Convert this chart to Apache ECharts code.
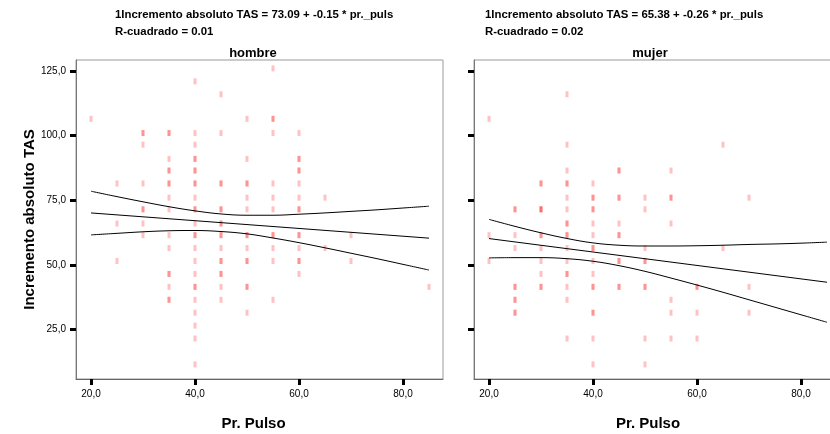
<!DOCTYPE html>
<html>
<head>
<meta charset="utf-8">
<script src="https://cdn.jsdelivr.net/npm/echarts@6/dist/echarts.min.js"></script>
<style>
html,body{margin:0;padding:0;background:#fff;overflow:hidden;}
#chart{width:850px;height:434px;}
</style>
</head>
<body>
<div id="chart"></div>
<script>
// ---- data ----
const panelNames = ['hombre', 'mujer'];
const equations = [
  '1Incremento absoluto TAS = 73.09 + -0.15 * pr._puls\nR-cuadrado = 0.01',
  '1Incremento absoluto TAS = 65.38 + -0.26 * pr._puls\nR-cuadrado = 0.02'
];
const xTicks = [20, 40, 60, 80];
const yTicks = [25, 50, 75, 100, 125];

// [pulse, increment, number of overlapping cases]
const hombrePoints = [
  [55,126,1],[40,121,1],[45,116,1],
  [20,106.5,1],[50,106.5,1],[55,106.5,2],
  [30,101,2],[35,101,2],[40,101,1],[45,101,1],[55,101,1],[60,101,1],
  [30,96.5,1],[40,96.5,1],
  [35,91,1],[40,91,2],[50,91,1],[60,91,2],
  [35,86.5,2],[40,86.5,2],[60,86.5,2],
  [25,81.5,1],[30,81.5,1],[35,81.5,2],[40,81.5,2],[45,81.5,2],[50,81.5,2],[55,81.5,1],[60,81.5,1],
  [35,76,1],[40,76,1],[50,76,1],[55,76,1],[60,76,1],[65,76,1],
  [30,71.5,2],[35,71.5,1],[40,71.5,2],[45,71.5,2],[50,71.5,1],[55,71.5,1],[60,71.5,2],
  [25,66,1],[30,66,1],[40,66,1],[45,66,2],
  [30,61.5,1],[35,61.5,1],[40,61.5,2],[45,61.5,2],[50,61.5,2],[55,61.5,2],[60,61.5,2],[70,61.5,1],
  [35,56.5,1],[40,56.5,1],[45,56.5,1],[50,56.5,1],[55,56.5,1],[60,56.5,1],[65,56.5,1],
  [25,51.5,1],[40,51.5,1],[45,51.5,2],[50,51.5,2],[55,51.5,1],[60,51.5,2],[70,51.5,1],
  [35,46.5,2],[40,46.5,1],[45,46.5,2],[60,46.5,1],
  [35,41.5,1],[40,41.5,2],[45,41.5,1],[50,41.5,2],[85,41.5,1],
  [35,36.5,2],[40,36.5,1],[45,36.5,1],[55,36.5,1],
  [40,31.5,1],[50,31.5,1],
  [40,26.5,1],[40,21.5,1],[40,11.5,1]
];
const mujerPoints = [
  [35,116,1],[20,106.5,1],
  [35,96.5,1],[65,96.5,1],
  [35,86.5,1],[45,86.5,2],[55,86.5,1],
  [30,81.5,2],[35,81.5,2],[40,81.5,1],
  [35,76,1],[40,76,2],[45,76,2],[50,76,1],[55,76,2],[70,76,1],
  [25,71.5,2],[30,71.5,3],[35,71.5,1],[40,71.5,2],[50,71.5,1],
  [35,66,2],[40,66,1],[45,66,1],[55,66,1],
  [20,61.5,1],[25,61.5,1],[30,61.5,2],[35,61.5,2],[40,61.5,1],[45,61.5,2],
  [25,56.5,1],[30,56.5,1],[35,56.5,1],[40,56.5,2],[50,56.5,1],[65,56.5,1],
  [20,51.5,1],[30,51.5,1],[35,51.5,1],[40,51.5,1],[45,51.5,2],[50,51.5,2],
  [30,46.5,1],[35,46.5,2],[40,46.5,1],
  [25,41.5,2],[30,41.5,2],[35,41.5,1],[40,41.5,2],[45,41.5,2],[50,41.5,2],[60,41.5,2],[70,41.5,1],
  [25,36.5,2],[35,36.5,1],[55,36.5,1],
  [25,31.5,2],[40,31.5,2],[55,31.5,1],[60,31.5,1],[70,31.5,1],
  [35,21.5,1],[40,21.5,1],[50,21.5,1],[55,21.5,1],[60,21.5,1],
  [40,11.5,1],[50,11.5,1]
];

// fit line end points (from the equations) and 95% mean-CI bands
const fitX = [20, 85];
const hombreFit = [70.09, 60.34];
const mujerFit = [60.18, 43.28];
const bandX = [20,25,30,35,40,45,50,55,60,65,70,75,80,85];
const hombreUpper = [78.5,76.4,74.4,72.5,70.9,69.7,69.2,69.2,69.6,70.1,70.7,71.3,72.0,72.7];
const hombreLower = [61.6,62.2,62.8,63.2,63.3,62.9,62.0,60.4,58.6,56.6,54.5,52.4,50.2,48.0];
const mujerUpper  = [67.6,64.9,62.4,60.2,58.5,57.6,57.3,57.3,57.4,57.6,57.9,58.1,58.4,58.8];
const mujerLower  = [52.7,52.8,52.8,52.4,51.4,49.7,47.5,44.9,42.2,39.4,36.5,33.6,30.7,27.8];

// ---- chart ----
const pair = (xs, ys) => xs.map((x, i) => [x, ys[i]]);
const expand = pts => {
  const out = [];
  pts.forEach(p => { for (let k = 0; k < p[2]; k++) out.push([p[0], p[1]]); });
  return out;
};
const fmt = v => v.toFixed(1).replace('.', ',');

const X_MIN = 17.115, X_MAX = 87.69, Y_MIN = 5.85, Y_MAX = 129.26;
const grids = [
  {left: 76, top: 60, width: 367, height: 319},
  {left: 474, top: 60, width: 367, height: 319}
];
const tickFont = 'Liberation Sans Narrow, Liberation Sans, Arial, sans-serif';
const boldFont = 'Liberation Sans, Arial, sans-serif';
const eqStyle = {fontFamily: boldFont, fontSize: 11.4, fontWeight: 'bold', color: '#000', lineHeight: 16.5};
const headStyle = {fontFamily: boldFont, fontSize: 13, fontWeight: 'bold', color: '#000'};

const option = {
  animation: false,
  backgroundColor: '#fff',
  title: [
    {text: equations[0], left: 115, top: 7, padding: 0, textStyle: eqStyle},
    {text: equations[1], left: 485, top: 7, padding: 0, textStyle: eqStyle},
    {text: panelNames[0], left: 253, top: 47, padding: 0, textAlign: 'center', textStyle: headStyle},
    {text: panelNames[1], left: 650, top: 47, padding: 0, textAlign: 'center', textStyle: headStyle}
  ],
  grid: grids.map(g => Object.assign({show: true, borderColor: '#999', borderWidth: 1, backgroundColor: '#fff', outerBoundsMode: 'none'}, g)),
  xAxis: [0, 1].map(i => ({
    type: 'value', gridIndex: i, min: X_MIN, max: X_MAX,
    name: 'Pr. Pulso', nameLocation: 'middle', nameGap: 37,
    nameTextStyle: {fontFamily: boldFont, fontSize: 15, fontWeight: 'bold', color: '#000', padding: [0, i === 0 ? 12 : 19, 0, 0]},
    axisLine: {show: true, lineStyle: {color: '#666', width: 1}},
    axisTick: {show: true, customValues: xTicks, length: 6, lineStyle: {color: '#000', width: 3}},
    axisLabel: {show: true, customValues: xTicks, formatter: fmt, margin: 10, fontFamily: tickFont, fontSize: 10, color: '#000'},
    splitLine: {show: false}
  })),
  yAxis: [0, 1].map(i => ({
    type: 'value', gridIndex: i, min: Y_MIN, max: Y_MAX,
    name: i === 0 ? 'Incremento absoluto TAS' : '', nameLocation: 'middle', nameGap: 38,
    nameTextStyle: {fontFamily: boldFont, fontSize: 15, fontWeight: 'bold', color: '#000'},
    axisLine: {show: true, lineStyle: {color: '#777', width: 1}},
    axisTick: {show: true, customValues: yTicks, length: 6, lineStyle: {color: '#000', width: 3}},
    axisLabel: {show: i === 0, customValues: yTicks, formatter: fmt, margin: 10, fontFamily: tickFont, fontSize: 10, color: '#000'},
    splitLine: {show: false}
  })),
  series: []
};

const panels = [
  {pts: hombrePoints, fit: hombreFit, up: hombreUpper, lo: hombreLower},
  {pts: mujerPoints, fit: mujerFit, up: mujerUpper, lo: mujerLower}
];
panels.forEach((p, i) => {
  option.series.push({
    type: 'scatter', xAxisIndex: i, yAxisIndex: i, data: expand(p.pts),
    symbol: 'rect', symbolSize: [3, 6],
    itemStyle: {color: 'rgba(255,0,0,0.3)'}, z: 2
  });
  const lineBase = {type: 'line', xAxisIndex: i, yAxisIndex: i, showSymbol: false, symbol: 'none',
    lineStyle: {color: '#000', width: 1}, z: 3, silent: true};
  option.series.push(Object.assign({}, lineBase, {data: pair(fitX, p.fit)}));
  option.series.push(Object.assign({}, lineBase, {data: pair(bandX, p.up), smooth: 0.4}));
  option.series.push(Object.assign({}, lineBase, {data: pair(bandX, p.lo), smooth: 0.4}));
});

const chart = echarts.init(document.getElementById('chart'), null, {renderer: 'canvas'});
chart.setOption(option);
</script>
</body>
</html>
